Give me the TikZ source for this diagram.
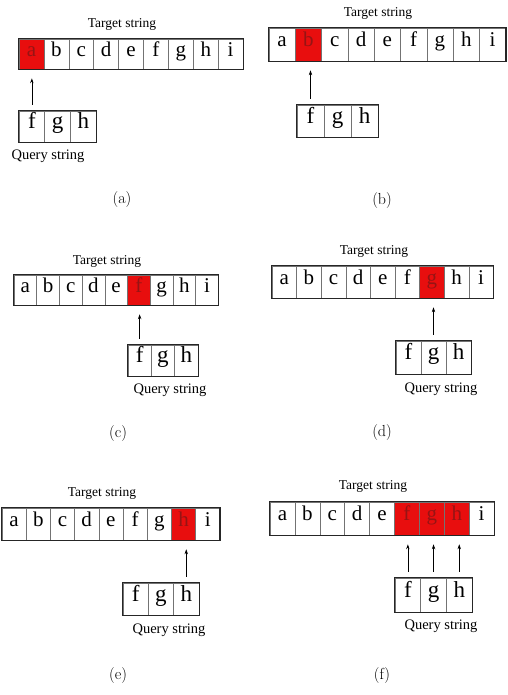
\documentclass[tikz,border=0pt]{standalone}
\usepackage{fontspec}
\usetikzlibrary{arrows.meta}
\newfontfamily\tnr{Liberation Serif}
\definecolor{hitred}{RGB}{232,14,14}
\definecolor{hitdark}{RGB}{150,20,20}
\tikzset{
    cell/.style={draw=black!55, line width=0.5pt, inner sep=0pt, text height=0.68em, text depth=0.2em,
        font=\tnr\fontsize{21}{21}\selectfont},
    hit/.style={cell, fill=hitred, text=hitdark},
    qcell/.style={cell, font=\tnr\fontsize{23}{23}\selectfont},
    frame/.style={draw=black!85, line width=1.3pt},
    title/.style={font=\tnr\fontsize{13.5}{13.5}\selectfont},
    qtitle/.style={font=\tnr\fontsize{14.5}{14.5}\selectfont},
    caption/.style={font=\fontsize{16}{16}\selectfont},
    ptr/.style={-{Stealth[length=5pt,width=3.4pt]}, line width=0.7pt, shorten <=6pt, shorten >=9pt}
}

\begin{document}
\begin{tikzpicture}[x=1pt, y=-1pt]
    \useasboundingbox (0,0) rectangle (507,695);

    \node[title] (a-tl) at (122,24) {Target string};
    \foreach \c/\s [count=\i] in {a/hit,b/cell,c/cell,d/cell,e/cell,f/cell,g/cell,h/cell,i/cell}
        \node[\s, minimum width=24.9, minimum height=30] (a-t\i) at ({19+(\i-0.5)*24.9},54) {\c};
    \draw[frame] (a-t1.north west) rectangle (a-t9.south east);
    \foreach \c [count=\i] in {f,g,h}
        \node[qcell, minimum width=25.7, minimum height=31] (a-q\i) at ({19+(\i-0.5)*25.7},126.5) {\c};
    \draw[frame] (a-q1.north west) rectangle (a-q3.south east);
    \draw[ptr] (a-q1.north) -- (a-q1.north |- a-t1.south);
    \node[qtitle] (a-ql) at (48,156) {Query string};
    \node[caption] (a-cap) at (122,200) {(a)};

    \node[title] (b-tl) at (378,13) {Target string};
    \foreach \c/\s [count=\i] in {a/cell,b/hit,c/cell,d/cell,e/cell,f/cell,g/cell,h/cell,i/cell}
        \node[\s, minimum width=26.3, minimum height=33] (b-t\i) at ({269+(\i-0.5)*26.3},44.5) {\c};
    \draw[frame] (b-t1.north west) rectangle (b-t9.south east);
    \foreach \c [count=\i] in {f,g,h}
        \node[qcell, minimum width=27, minimum height=32] (b-q\i) at ({297+(\i-0.5)*27},121) {\c};
    \draw[frame] (b-q1.north west) rectangle (b-q3.south east);
    \draw[ptr] (b-q1.north) -- (b-q1.north |- b-t2.south);
    \node[caption] (b-cap) at (382,201) {(b)};

    \node[title] (c-tl) at (107,261) {Target string};
    \foreach \c/\s [count=\i] in {a/cell,b/cell,c/cell,d/cell,e/cell,f/hit,g/cell,h/cell,i/cell}
        \node[\s, minimum width=22.7, minimum height=30] (c-t\i) at ({14+(\i-0.5)*22.7},290) {\c};
    \draw[frame] (c-t1.north west) rectangle (c-t9.south east);
    \foreach \c [count=\i] in {f,g,h}
        \node[qcell, minimum width=23.3, minimum height=31] (c-q\i) at ({128+(\i-0.5)*23.3},360.5) {\c};
    \draw[frame] (c-q1.north west) rectangle (c-q3.south east);
    \draw[ptr] (c-q1.north) -- (c-q1.north |- c-t6.south);
    \node[qtitle] (c-ql) at (170,390) {Query string};
    \node[caption] (c-cap) at (118,434) {(c)};

    \node[title] (d-tl) at (374,251) {Target string};
    \foreach \c/\s [count=\i] in {a/cell,b/cell,c/cell,d/cell,e/cell,f/cell,g/hit,h/cell,i/cell}
        \node[\s, minimum width=24.6, minimum height=32] (d-t\i) at ({272+(\i-0.5)*24.6},282) {\c};
    \draw[frame] (d-t1.north west) rectangle (d-t9.south east);
    \foreach \c [count=\i] in {f,g,h}
        \node[qcell, minimum width=25, minimum height=33] (d-q\i) at ({396+(\i-0.5)*25},357.5) {\c};
    \draw[frame] (d-q1.north west) rectangle (d-q3.south east);
    \draw[ptr] (d-q2.north) -- (d-q2.north |- d-t7.south);
    \node[qtitle] (d-ql) at (441,389) {Query string};
    \node[caption] (d-cap) at (382,433) {(d)};

    \node[title] (e-tl) at (102,493) {Target string};
    \foreach \c/\s [count=\i] in {a/cell,b/cell,c/cell,d/cell,e/cell,f/cell,g/cell,h/hit,i/cell}
        \node[\s, minimum width=24.2, minimum height=32] (e-t\i) at ({2+(\i-0.5)*24.2},524) {\c};
    \draw[frame] (e-t1.north west) rectangle (e-t9.south east);
    \foreach \c [count=\i] in {f,g,h}
        \node[qcell, minimum width=25.3, minimum height=32] (e-q\i) at ({123+(\i-0.5)*25.3},599) {\c};
    \draw[frame] (e-q1.north west) rectangle (e-q3.south east);
    \draw[ptr] (e-q3.north) -- (e-q3.north |- e-t8.south);
    \node[qtitle] (e-ql) at (169,630) {Query string};
    \node[caption] (e-cap) at (118,675) {(e)};

    \node[title] (f-tl) at (373,486) {Target string};
    \foreach \c/\s [count=\i] in {a/cell,b/cell,c/cell,d/cell,e/cell,f/hit,g/hit,h/hit,i/cell}
        \node[\s, minimum width=24.9, minimum height=33] (f-t\i) at ({270+(\i-0.5)*24.9},518.5) {\c};
    \draw[frame] (f-t1.north west) rectangle (f-t9.south east);
    \foreach \c [count=\i] in {f,g,h}
        \node[qcell, minimum width=25.7, minimum height=34] (f-q\i) at ({395+(\i-0.5)*25.7},595) {\c};
    \draw[frame] (f-q1.north west) rectangle (f-q3.south east);
    \draw[ptr] (f-q1.north) -- (f-q1.north |- f-t6.south);
    \draw[ptr] (f-q2.north) -- (f-q2.north |- f-t7.south);
    \draw[ptr] (f-q3.north) -- (f-q3.north |- f-t8.south);
    \node[qtitle] (f-ql) at (441,626) {Query string};
    \node[caption] (f-cap) at (382,675) {(f)};
\end{tikzpicture}
\end{document}
